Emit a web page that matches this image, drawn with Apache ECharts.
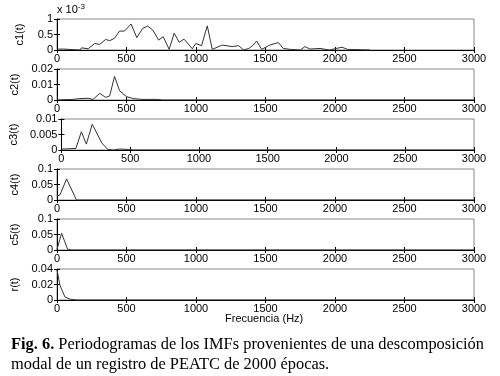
<!DOCTYPE html>
<html>
<head>
    <meta charset="utf-8">
    <title>IMF periodogramas</title>
    <script src="https://cdn.jsdelivr.net/npm/echarts@6/dist/echarts.min.js"></script>
</head>
<style>
    *{
        margin: 0;
        padding: 0;
    }
    #main{
        width: 500px;
        height: 376px;
        background: #fff;
    }
</style>
<body>
<div id="main"></div>
<script>
    // frecuencias (Hz) y valores de cada periodograma
    let c1Freq = [0, 45, 165, 176, 224, 271, 307, 350, 379, 414, 450, 486, 533, 574, 617, 652, 688, 731, 764, 807, 843, 879, 914, 974, 998, 1040, 1081, 1117, 1188, 1260, 1307, 1343, 1380, 1412, 1436, 1472, 1532, 1592, 1628, 1680, 1750, 1784, 1820, 1892, 1960, 2050, 2090, 2182, 2250];
    let c1Val = [0.03, 0.03, 0, 0.07, 0.04, 0.21, 0.18, 0.34, 0.30, 0.38, 0.61, 0.61, 0.84, 0.40, 0.70, 0.77, 0.65, 0.32, 0.43, 0.02, 0.54, 0.25, 0.35, 0.04, 0.21, 0.14, 0.78, 0.02, 0.16, 0.11, 0.14, 0, 0.05, 0.16, 0.29, 0.02, 0.16, 0.24, 0.05, 0.02, 0, 0.11, 0.03, 0.05, 0, 0.09, 0.02, 0.01, 0];
    let c2Freq = [0, 117, 160, 224, 260, 307, 350, 379, 414, 450, 500, 550, 610, 724, 760, 3000];
    let c2Val = [0, 0.0004, 0.0009, 0.0011, 0.0004, 0.0043, 0.0017, 0.0026, 0.0152, 0.0060, 0.0022, 0.0009, 0.0004, 0.0004, 0, 0];
    let c3Freq = [0, 105, 145, 181, 224, 295, 336, 380, 420, 486, 520, 3000];
    let c3Val = [0.0003, 0.0005, 0.0059, 0.0019, 0.0083, 0.0022, 0.0002, 0, 0.0003, 0.0002, 0, 0];
    let c4Freq = [0, 21, 69, 140, 3000];
    let c4Val = [0.013, 0.016, 0.068, 0, 0];
    let c5Freq = [0, 33, 76, 100, 3000];
    let c5Val = [0.002, 0.054, 0.003, 0, 0];
    let rFreq = [0, 21, 57, 95, 140, 3000];
    let rVal = [0.039, 0.019, 0.004, 0.001, 0, 0];

    let names = ['c1(t)', 'c2(t)', 'c3(t)', 'c4(t)', 'c5(t)', 'r(t)'];
    let yMax = [1, 0.02, 0.01, 0.1, 0.1, 0.04];
    let freqs = [c1Freq, c2Freq, c3Freq, c4Freq, c5Freq, rFreq];
    let vals = [c1Val, c2Val, c3Val, c4Val, c5Val, rVal];

    let chart = echarts.init(document.getElementById('main'));
    let font = 'Liberation Sans, Arial, sans-serif';
    let serif = 'Liberation Serif, Times New Roman, serif';

    let grid = [], xAxis = [], yAxis = [], series = [];
    names.forEach((name, i) => {
        grid.push({
            left: 57, right: 26, top: 19 + 50 * i, height: 31,
            show: true, borderColor: '#888', borderWidth: 1
        });
        // eje inferior con etiquetas
        xAxis.push({
            type: 'value', gridIndex: i, min: 0, max: 3000, interval: 500,
            axisLine: {lineStyle: {color: '#000', width: 1}},
            axisTick: {inside: true, length: 3, lineStyle: {color: '#000'}},
            axisLabel: {color: '#000', fontSize: 11, fontFamily: font, margin: 3, formatter: v => String(v)},
            splitLine: {show: false}
        });
        // eje superior, solo marcas
        xAxis.push({
            type: 'value', gridIndex: i, position: 'top', min: 0, max: 3000, interval: 500,
            axisLine: {show: false},
            axisTick: {inside: true, length: 3, lineStyle: {color: '#000'}},
            axisLabel: {show: false},
            splitLine: {show: false}
        });
        yAxis.push({
            type: 'value', gridIndex: i, min: 0, max: yMax[i], interval: yMax[i] / 2,
            name: name, nameLocation: 'middle', nameGap: 32, nameRotate: 90,
            nameTextStyle: {color: '#000', fontSize: 11, fontFamily: font},
            axisLine: {lineStyle: {color: '#000', width: 1}},
            axisTick: {inside: true, length: 3, lineStyle: {color: '#000'}},
            axisLabel: {color: '#000', fontSize: 11, fontFamily: font, margin: 4, formatter: v => String(v)},
            splitLine: {show: false}
        });
        yAxis.push({
            type: 'value', gridIndex: i, position: 'right', min: 0, max: yMax[i], interval: yMax[i] / 2,
            axisLine: {show: false},
            axisTick: {inside: true, length: 3, lineStyle: {color: '#000'}},
            axisLabel: {show: false},
            splitLine: {show: false}
        });
        series.push({
            type: 'line', xAxisIndex: 2 * i, yAxisIndex: 2 * i,
            data: freqs[i].map((f, k) => [f, vals[i][k]]),
            symbol: 'none', lineStyle: {color: '#333', width: 1}, silent: true
        });
    });

    chart.setOption({
        animation: false,
        backgroundColor: '#fff',
        grid, xAxis, yAxis, series,
        graphic: [
            {
                type: 'text', left: 57, top: 3,
                style: {
                    text: '{a|x 10}{b|-3}',
                    rich: {
                        a: {fontSize: 11, fontFamily: font, fill: '#000'},
                        b: {fontSize: 8, fontFamily: font, fill: '#000', verticalAlign: 'top', padding: [0, 0, 6, 0]}
                    }
                }
            },
            {
                type: 'text', left: 225, top: 313,
                style: {text: 'Frecuencia (Hz)', fontSize: 11, fontFamily: font, fill: '#000'}
            },
            {
                type: 'text', left: 11, top: 335,
                style: {
                    text: '{b|Fig. 6.} Periodogramas de los IMFs provenientes de una descomposición\nmodal de un registro de PEATC de 2000 épocas.',
                    fontSize: 16.4, fontFamily: serif, fill: '#000',
                    lineHeight: 20,
                    rich: {
                        b: {fontWeight: 'bold', fontSize: 16.4, fontFamily: serif, fill: '#000'}
                    }
                }
            }
        ]
    });
</script>
</body>
</html>
